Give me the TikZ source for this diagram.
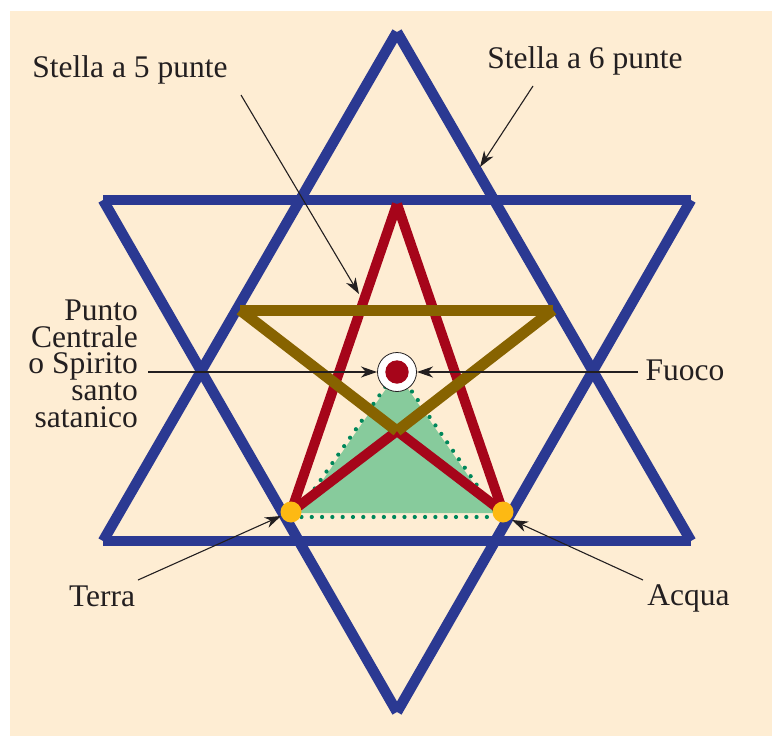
\documentclass[tikz,border=0pt]{standalone}
\usepackage{fontspec}
\setmainfont{Liberation Serif}
\usetikzlibrary{arrows.meta}
\definecolor{bgpeach}{HTML}{FEEDD3}
\definecolor{starblue}{HTML}{2B3992}
\definecolor{starred}{HTML}{A6051A}
\definecolor{starbrown}{HTML}{876300}
\definecolor{fillgreen}{HTML}{87CB9C}
\definecolor{dotgreen}{HTML}{00875A}
\definecolor{dotyellow}{HTML}{FDB913}
\definecolor{inkdark}{HTML}{231F20}
\tikzset{
  blueline/.style={draw=starblue, line width=10.5pt, line cap=butt},
  redline/.style={draw=starred, line width=10pt, line cap=butt},
  brownline/.style={draw=starbrown, line width=11pt, line cap=butt},
  pointer/.style={draw=inkdark, line width=1.1pt, -{Stealth[length=16pt, width=11pt, inset=5pt]}},
  lbl/.style={text=inkdark, font=\fontsize{31.5}{26.8}\selectfont, inner sep=0pt, anchor=base},
  stackline/.style={lbl, anchor=base east, text height=20pt, text depth=6pt},
}
\begin{document}
\begin{tikzpicture}[x=1pt, y=-1pt]
\useasboundingbox (0,0) rectangle (772,736);
\fill[white] (0,0) rectangle (772,736);
\fill[bgpeach] (10,11) rectangle (772,736);

% star of David vertices
\coordinate (UT) at (397,32);
\coordinate (UL) at (103,541);
\coordinate (UR) at (691,541);
\coordinate (DB) at (397,712);
\coordinate (DL) at (103,200);
\coordinate (DR) at (691,200);
% blue star
\draw[blueline] (UT) -- (UL);
\draw[blueline] (UT) -- (UR);
\draw[blueline] (UL) -- (UR);
\draw[blueline] (DL) -- (DR);
\draw[blueline] (DL) -- (DB);
\draw[blueline] (DR) -- (DB);

% green triangle
\fill[fillgreen] (397,373) -- (300,513) -- (494,513) -- cycle;
\draw[dotgreen, line width=4.2pt, line cap=round, dash pattern=on 0pt off 10.3pt]
  (397,370) -- (295,517) -- (499,517) -- cycle;

% pentagram vertices
\coordinate (PT) at (397,204);
\coordinate (PL) at (240,310);
\coordinate (PR) at (553,310);
\coordinate (PBL) at (291,512);
\coordinate (PBR) at (503,512);
\coordinate (PC) at (397,431);
% red parts
\draw[redline] (PT) -- (PBL);
\draw[redline] (PT) -- (PBR);
\draw[redline] (PC) -- (PBL);
\draw[redline] (PC) -- (PBR);
% brown parts
\draw[brownline] (PL) -- (PR);
\draw[brownline] (PL) -- (PC);
\draw[brownline] (PR) -- (PC);

% yellow dots
\fill[dotyellow] (PBL) circle[radius=10.5];
\fill[dotyellow] (PBR) circle[radius=10.5];

% central point
\node[circle, fill=white, draw=inkdark, line width=0.8pt, minimum size=39pt, inner sep=0pt] (centre) at (397,372) {};
\fill[starred] (centre.center) circle[radius=11.7];

% labels
\node[lbl] (s5) at (130,77) {Stella a 5 punte};
\node[lbl] (s6) at (585,68) {Stella a 6 punte};
\node[stackline] (punto1) at (138,320) {Punto};
\node[stackline] (punto2) at (138,347) {Centrale};
\node[stackline] (punto3) at (138,373) {o Spirito};
\node[stackline] (punto4) at (138,400) {santo};
\node[stackline] (punto5) at (138,427) {satanico};
\node[lbl] (fuoco) at (685,380) {Fuoco};
\node[lbl] (terra) at (102,606) {Terra};
\node[lbl] (acqua) at (688.5,605) {Acqua};

% pointer coordinates
\coordinate (s5a) at (241,95);
\coordinate (s5b) at (359,294);
\coordinate (s6a) at (533,86);
\coordinate (s6b) at (480,167);
\coordinate (pa) at (148,372);
\coordinate (pb) at (377,372);
\coordinate (fa) at (638,372);
\coordinate (fb) at (417,372);
\coordinate (ta) at (138,580);
\coordinate (tb) at (281,516);
\coordinate (aa) at (643,580);
\coordinate (ab) at (512,520);

\draw[pointer] (s5a) -- (s5b);
\draw[pointer] (s6a) -- (s6b);
\draw[pointer] (pa) -- (pb);
\draw[pointer] (fa) -- (fb);
\draw[pointer] (ta) -- (tb);
\draw[pointer] (aa) -- (ab);
\end{tikzpicture}
\end{document}
